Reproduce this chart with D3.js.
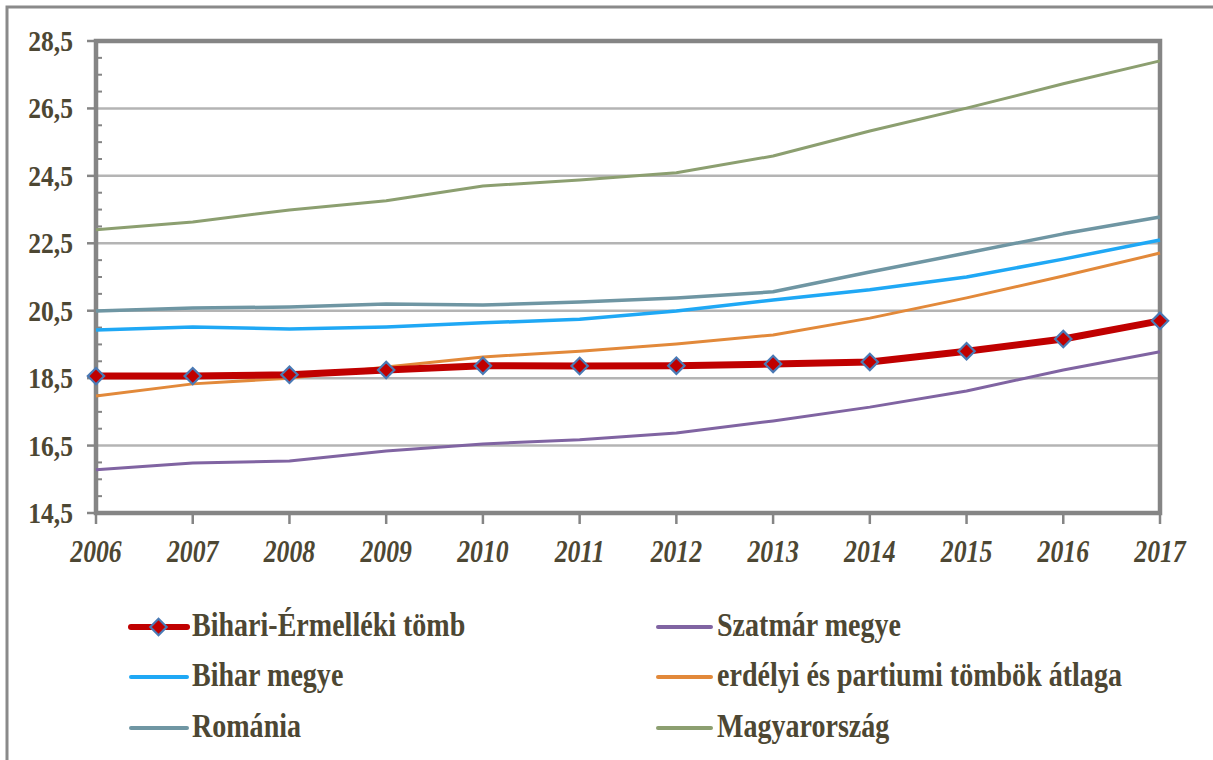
<!DOCTYPE html>
<html>
<head>
<meta charset="utf-8">
<style>
  body { margin: 0; background: #fff; }
  text { font-family: "Liberation Serif", "Times New Roman", serif; font-weight: bold; fill: #4d4733; }
</style>
</head>
<body>
<svg width="1213" height="760"></svg>
<script src="https://d3js.org/d3.v7.min.js"></script>
<script>
// years on the x axis
var years = [2006, 2007, 2008, 2009, 2010, 2011, 2012, 2013, 2014, 2015, 2016, 2017];
// y tick labels
var yTicks = [14.5, 16.5, 18.5, 20.5, 22.5, 24.5, 26.5, 28.5];

// series values
var bihariErmelleki = [18.56, 18.56, 18.6, 18.74, 18.87, 18.86, 18.87, 18.92, 18.98, 19.3, 19.66, 20.2];
var szatmar = [15.78, 15.98, 16.04, 16.34, 16.55, 16.67, 16.87, 17.23, 17.64, 18.12, 18.74, 19.28];
var biharMegye = [19.93, 20.02, 19.96, 20.02, 20.14, 20.25, 20.49, 20.82, 21.12, 21.5, 22.03, 22.6];
var erdelyi = [17.97, 18.33, 18.5, 18.83, 19.13, 19.3, 19.51, 19.78, 20.28, 20.88, 21.53, 22.21];
var romania = [20.49, 20.58, 20.61, 20.7, 20.67, 20.76, 20.88, 21.06, 21.65, 22.21, 22.78, 23.28];
var magyarorszag = [22.9, 23.13, 23.49, 23.76, 24.2, 24.38, 24.59, 25.09, 25.83, 26.51, 27.23, 27.91];

var seriesNames = ["Bihari-Érmelléki tömb", "Szatmár megye", "Bihar megye",
                   "erdélyi és partiumi tömbök átlaga", "Románia", "Magyarország"];

var series = [
  {name: seriesNames[0], values: bihariErmelleki, color: "#c00000", width: 7, marker: true},
  {name: seriesNames[1], values: szatmar, color: "#8064a2", width: 3},
  {name: seriesNames[2], values: biharMegye, color: "#1fa8f5", width: 3.5},
  {name: seriesNames[3], values: erdelyi, color: "#e2893a", width: 3},
  {name: seriesNames[4], values: romania, color: "#6f96a3", width: 3.5},
  {name: seriesNames[5], values: magyarorszag, color: "#8c9f70", width: 3}
];

var svg = d3.select("svg");

// outer frame (runs off the picture on the right and bottom)
svg.append("rect")
    .attr("x", 7).attr("y", 7)
    .attr("width", 1400).attr("height", 1000)
    .attr("fill", "none")
    .attr("stroke", "#8a8a8a")
    .attr("stroke-width", 3);

var pLeft = 96, pRight = 1160, pTop = 41, pBottom = 513;

var x = d3.scalePoint().domain(years).range([pLeft, pRight]);
var y = d3.scaleLinear().domain([14.5, 28.5]).range([pBottom, pTop]);

// gridlines
svg.append("g")
  .selectAll("line")
  .data(yTicks.slice(1, -1))
  .enter().append("line")
    .attr("x1", pLeft).attr("x2", pRight)
    .attr("y1", function(d) { return y(d); })
    .attr("y2", function(d) { return y(d); })
    .attr("stroke", "#b4b4b4")
    .attr("stroke-width", 2.5);

// minor ticks every 0.5
var minor = d3.range(15, 28.5, 0.5).filter(function(d) { return yTicks.indexOf(d) < 0; });
svg.append("g")
  .selectAll("line")
  .data(minor)
  .enter().append("line")
    .attr("x1", pLeft).attr("x2", pLeft + 6)
    .attr("y1", function(d) { return y(d); })
    .attr("y2", function(d) { return y(d); })
    .attr("stroke", "#858585")
    .attr("stroke-width", 2);

// major y ticks
svg.append("g")
  .selectAll("line")
  .data(yTicks)
  .enter().append("line")
    .attr("x1", pLeft - 9).attr("x2", pLeft)
    .attr("y1", function(d) { return y(d); })
    .attr("y2", function(d) { return y(d); })
    .attr("stroke", "#858585")
    .attr("stroke-width", 2.5);

// x ticks
svg.append("g")
  .selectAll("line")
  .data(years)
  .enter().append("line")
    .attr("x1", function(d) { return x(d); })
    .attr("x2", function(d) { return x(d); })
    .attr("y1", pBottom).attr("y2", pBottom + 11)
    .attr("stroke", "#858585")
    .attr("stroke-width", 2.5);

// plot frame
svg.append("rect")
    .attr("x", pLeft).attr("y", pTop)
    .attr("width", pRight - pLeft).attr("height", pBottom - pTop)
    .attr("fill", "none")
    .attr("stroke", "#858585")
    .attr("stroke-width", 4.5);

// y labels
svg.append("g")
  .selectAll("text")
  .data(yTicks)
  .enter().append("text")
    .attr("transform", function(d) { return "translate(73," + (y(d) + 10) + ") scale(0.88,1)"; })
    .attr("text-anchor", "end")
    .attr("font-size", 29)
    .text(function(d) { return d3.format(".1f")(d).replace(".", ","); });

// x labels
svg.append("g")
  .selectAll("text")
  .data(years)
  .enter().append("text")
    .attr("transform", function(d) { return "translate(" + x(d) + ",562) scale(0.83,1)"; })
    .attr("text-anchor", "middle")
    .attr("font-size", 31)
    .attr("font-style", "italic")
    .text(function(d) { return d; });

// lines
var line = d3.line()
    .x(function(d, i) { return x(years[i]); })
    .y(function(d) { return y(d); });

var order = [5, 4, 2, 3, 1, 0];
order.forEach(function(k) {
  var s = series[k];
  svg.append("path")
      .datum(s.values)
      .attr("fill", "none")
      .attr("stroke", s.color)
      .attr("stroke-width", s.width)
      .attr("stroke-linejoin", "round")
      .attr("d", line);
});

var diamond = d3.symbol().type(d3.symbolDiamond2).size(170);
svg.append("g")
  .selectAll("path")
  .data(bihariErmelleki)
  .enter().append("path")
    .attr("transform", function(d, i) { return "translate(" + x(years[i]) + "," + y(d) + ")"; })
    .attr("d", diamond)
    .attr("fill", "#c00000")
    .attr("stroke", "#4a7ab5")
    .attr("stroke-width", 2.2);

// legend
var legendPos = [
  {lx: 131, rx: 187, tx: 192, ly: 627},
  {lx: 658, rx: 711, tx: 717, ly: 627},
  {lx: 131, rx: 187, tx: 192, ly: 677},
  {lx: 658, rx: 711, tx: 717, ly: 677},
  {lx: 131, rx: 187, tx: 192, ly: 728},
  {lx: 658, rx: 711, tx: 717, ly: 728}
];
var lg = svg.append("g").selectAll("g")
  .data(series)
  .enter().append("g");

lg.append("line")
    .attr("x1", function(d, i) { return legendPos[i].lx; })
    .attr("x2", function(d, i) { return legendPos[i].rx; })
    .attr("y1", function(d, i) { return legendPos[i].ly; })
    .attr("y2", function(d, i) { return legendPos[i].ly; })
    .attr("stroke", function(d) { return d.color; })
    .attr("stroke-width", function(d) { return d.marker ? 6 : 4; })
    .attr("stroke-linecap", "round");

lg.filter(function(d) { return d.marker; })
  .append("path")
    .attr("transform", "translate(158.5," + legendPos[0].ly + ")")
    .attr("d", diamond)
    .attr("fill", "#c00000")
    .attr("stroke", "#4a7ab5")
    .attr("stroke-width", 2.2);

lg.append("text")
    .attr("transform", function(d, i) { return "translate(" + legendPos[i].tx + "," + (legendPos[i].ly + 9) + ") scale(0.85,1)"; })
    .attr("font-size", 33)
    .text(function(d) { return d.name; });
</script>
</body>
</html>
